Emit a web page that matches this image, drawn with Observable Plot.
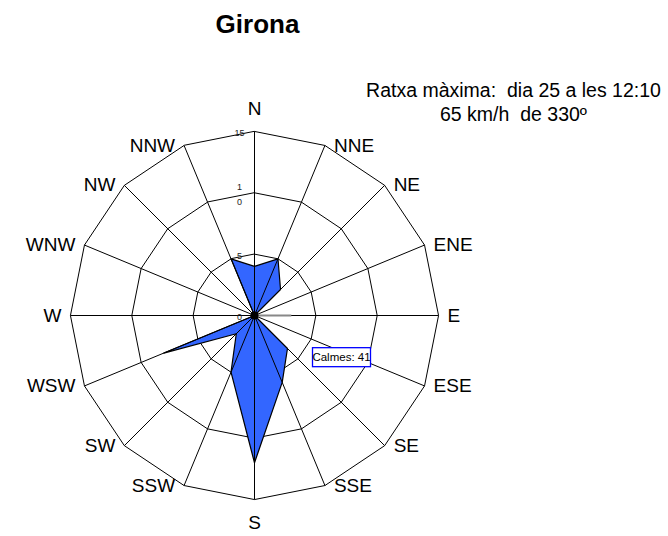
<!DOCTYPE html>
<html><head><meta charset="utf-8">
<script src="https://cdn.jsdelivr.net/npm/d3@7"></script>
<script src="https://cdn.jsdelivr.net/npm/@observablehq/plot@0.6"></script>
<style>
body{margin:0;background:#fff}
svg text{white-space:pre}
</style>
</head><body><div id="chart"></div>
<script>
const title = "Girona";
const directions = ["N","NNE","NE","ENE","E","ESE","SE","SSE","S","SSW","SW","WSW","W","WNW","NW","NNW"];
const frequencies = [4, 5, 3, 0, 0, 0, 3.8, 5.9, 12, 5, 2.1, 8, 0, 0, 0, 5];
const ringValues = [5, 10, 15];
const tickValues = [0, 5, 10, 15];
const tickLabels = ["0", "5", "1\n0", "15"];
const eastMarker = [{dir: "E", value: 3}];
const calmsLabel = "Calmes: 41";
const gustLines = ["Ratxa màxima:  dia 25 a les 12:10", "65 km/h  de 330º"];

const W = 668, H = 536, cx = 254, cy = 315, k = 12.27;
const rMax = d3.max(ringValues);
const ang = i => i * Math.PI / 8;
const px = (r, i) => r * Math.sin(ang(i));
const py = (r, i) => r * Math.cos(ang(i));

const rings = ringValues.flatMap(r => directions.map((d, i) => ({r, x: px(r, i), y: py(r, i)})));
const spokes = directions.map((d, i) => ({x2: px(rMax, i), y2: py(rMax, i)}));
const wind = frequencies.map((v, i) => ({x: px(v, i), y: py(v, i)}));
const labels = directions.map((d, i) => ({d, i, x: px(rMax, i), y: py(rMax, i)}));
const east = eastMarker.map(e => ({x2: px(e.value, directions.indexOf(e.dir)), y2: py(e.value, directions.indexOf(e.dir))}));

const font = "'Liberation Sans', Arial, sans-serif";
const dirSize = 19;

const chart = Plot.plot({
  width: W, height: H, margin: 0,
  x: {domain: [-cx / k, (W - cx) / k], axis: null},
  y: {domain: [-(H - cy) / k, cy / k], axis: null},
  style: {fontFamily: font, background: "#fff", color: "#000"},
  marks: [
    Plot.line(rings, {x: "x", y: "y", z: "r", curve: "linear-closed", stroke: "#000", strokeWidth: 1}),
    Plot.line(wind, {x: "x", y: "y", curve: "linear-closed", fill: "#3366ff", stroke: "#000", strokeWidth: 1.2}),
    Plot.link(spokes, {x1: () => 0, y1: () => 0, x2: "x2", y2: "y2", stroke: "#000", strokeWidth: 1}),
    Plot.link(east, {x1: () => 0, y1: () => 0, x2: "x2", y2: "y2", stroke: "#888", strokeWidth: 2.2}),
    Plot.dot([0], {x: () => 0, y: () => 0, r: 4, fill: "#000", stroke: "none"}),
    Plot.text(tickValues, {x: () => 0, y: d => d, text: (d, i) => tickLabels[i], dx: -15, fontSize: 9, lineHeight: 1.7, fill: "#222"}),
    Plot.text(labels.filter(l => l.i > 0 && l.i < 8), {x: "x", y: "y", text: "d", textAnchor: "start", dx: 9, fontSize: dirSize}),
    Plot.text(labels.filter(l => l.i > 8), {x: "x", y: "y", text: "d", textAnchor: "end", dx: -9, fontSize: dirSize}),
    Plot.text(labels.filter(l => l.i === 0), {x: "x", y: "y", text: "d", dy: -23, fontSize: dirSize}),
    Plot.text(labels.filter(l => l.i === 8), {x: "x", y: "y", text: "d", dy: 23, fontSize: dirSize}),
    Plot.text([title], {x: () => 0, frameAnchor: "top", lineAnchor: "middle", dx: 3, dy: 24, text: d => d, fontSize: 26, fontWeight: "bold"}),
    Plot.text([gustLines.join("\n")], {frameAnchor: "top-right", lineAnchor: "middle", dx: -155, dy: 101, text: d => d, textAnchor: "middle", fontSize: 19.5, lineHeight: 1.2}),
    Plot.text([calmsLabel], {frameAnchor: "top-left", lineAnchor: "middle", dx: 341, dy: 357, text: d => d, textAnchor: "middle", fontSize: 11.5})
  ]
});
document.getElementById("chart").appendChild(chart);

// frame box around the calms label
d3.select(chart).selectAll("text").filter(function() { return this.textContent === calmsLabel; }).each(function() {
  const b = this.getBBox();
  const mx = b.x + b.width / 2, my = b.y + b.height / 2;
  const bw = 58, bh = 19;
  d3.select(this.parentNode).insert("rect", () => this)
    .attr("x", mx - bw / 2).attr("y", my - bh / 2)
    .attr("width", bw).attr("height", bh)
    .attr("fill", "#fff").attr("stroke", "#0000ff").attr("stroke-width", 1.3);
});
</script>
</body></html>
